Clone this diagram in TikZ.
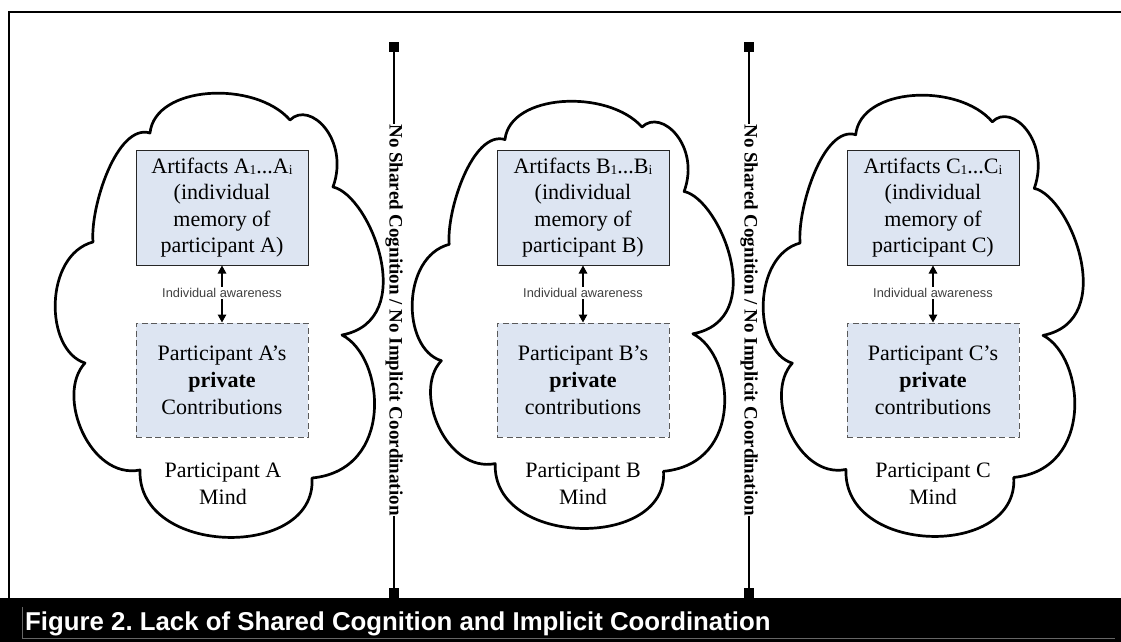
\documentclass[tikz,border=0pt]{standalone}
\usepackage{fontspec}
\setmainfont{Liberation Serif}
\newfontfamily\arialfont{Liberation Sans}
\usetikzlibrary{arrows.meta}
\definecolor{boxfill}{HTML}{DDE5F2}
\definecolor{capgray}{HTML}{666666}

% cloud outline, drawn in a 330 x 443 master frame and fitted to a box
\newcommand\mycloud[5]{% name x0 y0 W H
  \begin{scope}[shift={(#2,#3)},xscale=#4/330,yscale=#5/443]
  \draw[cloudline] (38,147)
    .. controls (35,112) and (62,28) .. (95,38)
    .. controls (100,-10) and (200,-15) .. (235,25)
    .. controls (255,5) and (295,45) .. (278,92)
    .. controls (315,100) and (365,225) .. (287,240)
    .. controls (330,262) and (340,375) .. (257,383)
    .. controls (262,465) and (82,462) .. (85,375)
    .. controls (35,385) and (0,300) .. (30,268)
    .. controls (-11,255) and (-11,160) .. (38,147)
    -- cycle;
  \coordinate (#1) at (165,221);
  \end{scope}}

\newcommand\sbs[1]{{\fontsize{13.5}{13.5}\selectfont\raisebox{-1.2pt}{#1}}}

\begin{document}
\frenchspacing
\begin{tikzpicture}[x=1pt,y=-1pt,
  cloudline/.style={draw=black,line width=2.7pt,line join=round},
  artbox/.style={draw=black!85,line width=1pt,fill=boxfill,
     minimum width=172pt,minimum height=115pt,inner sep=0pt,align=center,
     font=\fontsize{22}{26.5}\selectfont},
  privbox/.style={draw=black!65,line width=1pt,dash pattern=on 6pt off 3.5pt,
     fill=boxfill,minimum width=172pt,minimum height=114pt,inner sep=0pt,
     align=center,font=\fontsize{22}{27}\selectfont},
  mindtxt/.style={align=center,inner sep=0pt,font=\fontsize{22}{27}\selectfont},
  awarelbl/.style={inner sep=1.5pt,text=black!75,
     font=\arialfont\fontsize{12.8}{14}\selectfont},
  awarr/.style={line width=1.4pt,-{Triangle[length=8pt,width=8.5pt]}},
  septext/.style={rotate=-90,inner sep=0pt,font=\bfseries\fontsize{19}{22}\selectfont},
  sepline/.style={line width=2.5pt},
  endsq/.style={fill=black,minimum size=10pt,inner sep=0pt},
  captxt/.style={text=white,inner sep=0pt,
     font=\arialfont\bfseries\fontsize{25.8}{30}\selectfont},
]
\useasboundingbox (0,0) rectangle (1121,642);
\fill[white] (0,0) rectangle (1121,642);

% frame
\draw[line width=2.6pt] (9,598) -- (9,12) -- (1121,12);

% clouds
\mycloud{cA}{55}{95}{330}{443}
\mycloud{cB}{412}{103}{323}{426}
\mycloud{cC}{763}{97}{322}{440}

% panel A
\node[artbox] (artA) at (222,207.5) {Artifacts A\sbs{1}...A\sbs{i}\\(individual\\memory of\\participant A)};
\node[awarelbl] (awA) at (222,293) {Individual awareness};
\node[privbox] (prvA) at (222,380) {Participant A’s\\\textbf{private}\\Contributions};
\node[mindtxt] (mindA) at (223,483.5) {Participant A\\Mind};
\draw[awarr] (awA.north) -- (artA.south);
\draw[awarr] (awA.south) -- (prvA.north);

% panel B
\node[artbox] (artB) at (583,207.5) {Artifacts B\sbs{1}...B\sbs{i}\\(individual\\memory of\\participant B)};
\node[awarelbl] (awB) at (583,293) {Individual awareness};
\node[privbox] (prvB) at (583,380) {Participant B’s\\\textbf{private}\\contributions};
\node[mindtxt] (mindB) at (583,483.5) {Participant B\\Mind};
\draw[awarr] (awB.north) -- (artB.south);
\draw[awarr] (awB.south) -- (prvB.north);

% panel C
\node[artbox] (artC) at (933,207.5) {Artifacts C\sbs{1}...C\sbs{i}\\(individual\\memory of\\participant C)};
\node[awarelbl] (awC) at (933,293) {Individual awareness};
\node[privbox] (prvC) at (933,380) {Participant C’s\\\textbf{private}\\contributions};
\node[mindtxt] (mindC) at (933,483.5) {Participant C\\Mind};
\draw[awarr] (awC.north) -- (artC.south);
\draw[awarr] (awC.south) -- (prvC.north);

% separators
\node[septext] (s1t) at (394,320) {No Shared Cognition / No Implicit Coordination};
\node[endsq] (s1a) at (394,47) {};
\node[endsq] (s1b) at (394,593) {};
\draw[sepline] (s1a) -- (s1t.west);
\draw[sepline] (s1t.east) -- (s1b);

\node[septext] (s2t) at (749,320) {No Shared Cognition / No Implicit Coordination};
\node[endsq] (s2a) at (749,47) {};
\node[endsq] (s2b) at (749,593) {};
\draw[sepline] (s2a) -- (s2t.west);
\draw[sepline] (s2t.east) -- (s2b);

% caption bar
\fill[black] (0,598) rectangle (1121,642);
\draw[capgray,line width=0.9pt] (22.5,607) -- (22.5,638) -- (1115,638);
\node[captxt,anchor=base west] (cap) at (25,630) {Figure 2. Lack of Shared Cognition and Implicit Coordination};
\end{tikzpicture}
\end{document}
